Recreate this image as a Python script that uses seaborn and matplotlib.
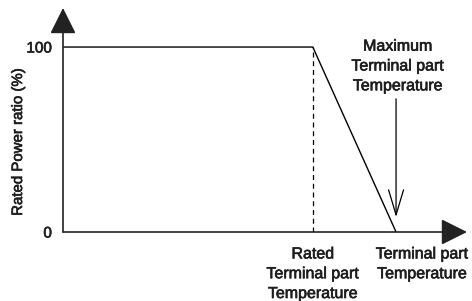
import matplotlib
matplotlib.use("Agg")
import matplotlib.pyplot as plt
import matplotlib.patheffects as pe
import seaborn as sns
import pandas as pd

# derating curve (temperature in relative units, rated = 75, max = 100)
temp = [0, 75, 100]
power_ratio = [100, 100, 0]
rated_temp = 75
max_temp = 100
y_ticks = [0, 100]
y_tick_labels = ["0", "100"]

sns.set_theme(style="white")
plt.rcParams['font.family'] = ['Liberation Sans', 'DejaVu Sans']

TXT_COLOR = "#1e1e1e"
bold_fx = [pe.withStroke(linewidth=0.45, foreground=TXT_COLOR)]

fig = plt.figure(figsize=(4.72, 3.01), dpi=100)
ax = fig.add_axes([63 / 472, 69 / 301, 404 / 472, 224 / 301])
ax.set_xlim(0, 121.3)
ax.set_ylim(0, 121.1)
ax.patch.set_alpha(0)
for s in ax.spines.values():
    s.set_visible(False)

df = pd.DataFrame({"temp": temp, "ratio": power_ratio})
sns.lineplot(data=df, x="temp", y="ratio", color="black", linewidth=1.0, ax=ax, sort=False)

# dashed line at rated temperature
ax.plot([rated_temp, rated_temp], [0, 100], color="black", linewidth=0.9, dashes=(4, 3))

# axes with filled arrowheads
arrow_kw = dict(arrowstyle="-|>,head_width=0.45,head_length=0.9", color="#222222",
                linewidth=1.2, mutation_scale=18, shrinkA=0, shrinkB=0)
ax.annotate("", xy=(121.3, 0), xytext=(0, 0), xycoords="data", arrowprops=arrow_kw,
            annotation_clip=False)
ax.annotate("", xy=(0, 121.1), xytext=(0, 0), xycoords="data", arrowprops=arrow_kw,
            annotation_clip=False)

# open arrow pointing to max temperature
ax.annotate("", xy=(max_temp, 8.1), xytext=(max_temp, 72),
            arrowprops=dict(arrowstyle="->,head_width=0.3,head_length=1.0", color="black",
                            linewidth=0.9, mutation_scale=18, shrinkA=0, shrinkB=0))

ax.set_yticks(y_ticks)
ax.set_yticklabels(y_tick_labels)
ax.tick_params(axis="y", length=0, pad=8, labelsize=11, labelcolor=TXT_COLOR)
for lbl in ax.get_yticklabels():
    lbl.set_path_effects(bold_fx)
ax.set_xticks([])
ax.set_xlabel("")
ax.set_ylabel("Rated Power ratio (%)", fontsize=10.8, color=TXT_COLOR,
              path_effects=bold_fx)
ax.yaxis.set_label_coords(-0.094, 0.402)

txt = dict(fontsize=11.5, color=TXT_COLOR, ha="center", va="top", linespacing=1.4,
           path_effects=bold_fx)
ax.text(rated_temp, -7.8, "Rated\nTerminal part\nTemperature", **txt)
ax.text(107.8, -7.8, "Terminal part\nTemperature", **txt)
ax.text(100.5, 104.5, "Maximum\nTerminal part\nTemperature", **txt)

fig.savefig("out.png", dpi=100)
